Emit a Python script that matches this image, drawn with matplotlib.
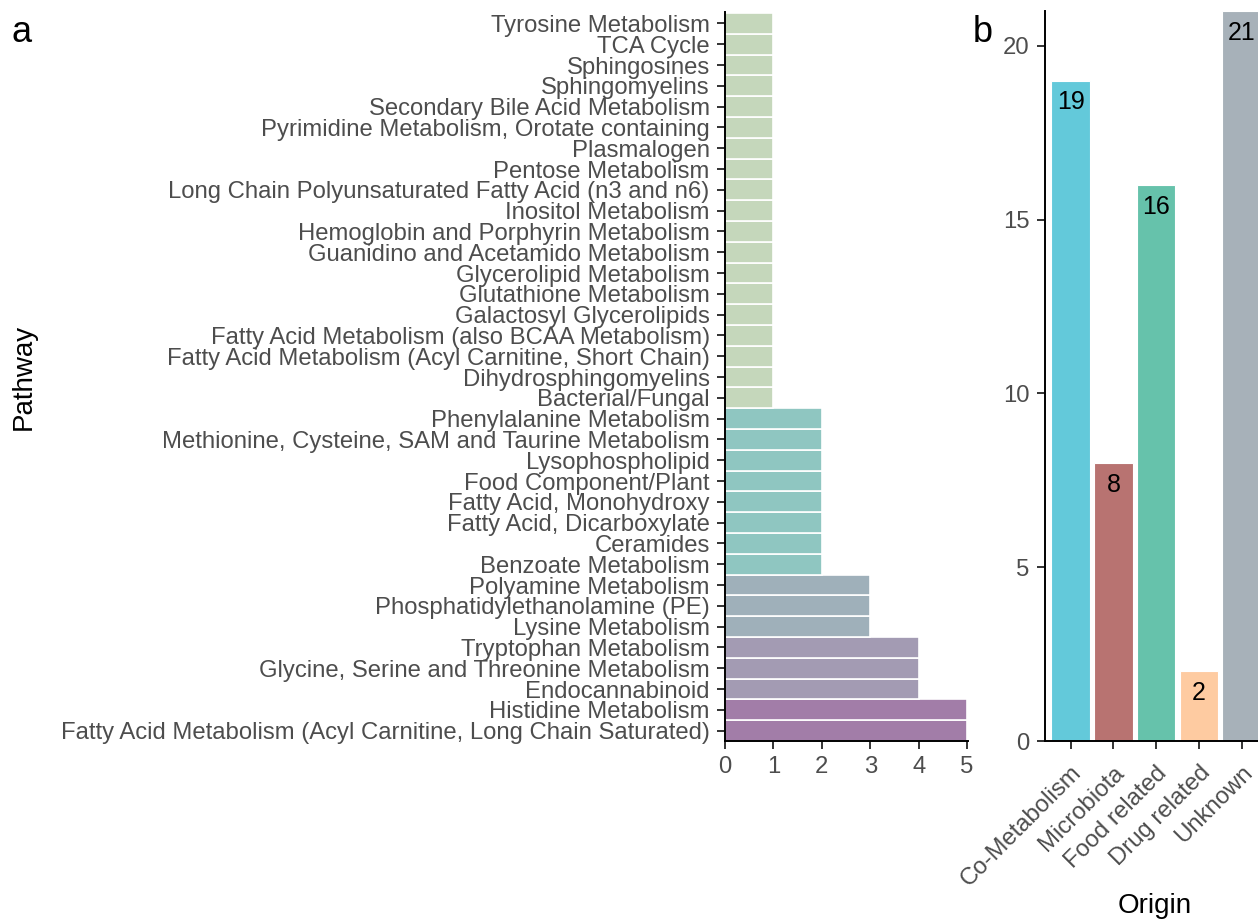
import numpy as np
import matplotlib
matplotlib.use("Agg")
import matplotlib.pyplot as plt

plt.rcParams['font.family'] = ['Liberation Sans', 'DejaVu Sans']

# panel a: pathways (bottom to top) and counts
pathways = [
    "Fatty Acid Metabolism (Acyl Carnitine, Long Chain Saturated)",
    "Histidine Metabolism",
    "Endocannabinoid",
    "Glycine, Serine and Threonine Metabolism",
    "Tryptophan Metabolism",
    "Lysine Metabolism",
    "Phosphatidylethanolamine (PE)",
    "Polyamine Metabolism",
    "Benzoate Metabolism",
    "Ceramides",
    "Fatty Acid, Dicarboxylate",
    "Fatty Acid, Monohydroxy",
    "Food Component/Plant",
    "Lysophospholipid",
    "Methionine, Cysteine, SAM and Taurine Metabolism",
    "Phenylalanine Metabolism",
    "Bacterial/Fungal",
    "Dihydrosphingomyelins",
    "Fatty Acid Metabolism (Acyl Carnitine, Short Chain)",
    "Fatty Acid Metabolism (also BCAA Metabolism)",
    "Galactosyl Glycerolipids",
    "Glutathione Metabolism",
    "Glycerolipid Metabolism",
    "Guanidino and Acetamido Metabolism",
    "Hemoglobin and Porphyrin Metabolism",
    "Inositol Metabolism",
    "Long Chain Polyunsaturated Fatty Acid (n3 and n6)",
    "Pentose Metabolism",
    "Plasmalogen",
    "Pyrimidine Metabolism, Orotate containing",
    "Secondary Bile Acid Metabolism",
    "Sphingomyelins",
    "Sphingosines",
    "TCA Cycle",
    "Tyrosine Metabolism",
]
counts = [5, 5, 4, 4, 4, 3, 3, 3, 2, 2, 2, 2, 2, 2, 2, 2,
          1, 1, 1, 1, 1, 1, 1, 1, 1, 1, 1, 1, 1, 1, 1, 1, 1, 1, 1]
count_colors = {1: "#C5D7BB", 2: "#8FC6C1", 3: "#9FB0BA", 4: "#A39BB3", 5: "#A27DA8"}

# panel b: origin
origins = ["Co-Metabolism", "Microbiota", "Food related", "Drug related", "Unknown"]
origin_n = [19, 8, 16, 2, 21]
origin_colors = ["#63C9DA", "#B87371", "#66C2AB", "#FECBA1", "#A7B1B9"]

W, H = 1258, 921
fig = plt.figure(figsize=(W / 100, H / 100), dpi=100)

tick_col = "#4D4D4D"
fs = 17.2

def px_axes(x0, x1, ytop, ybot):
    return [x0 / W, (H - ybot) / H, (x1 - x0) / W, (ybot - ytop) / H]

def style(ax):
    for s in ["top", "right"]:
        ax.spines[s].set_visible(False)
    for s in ["left", "bottom"]:
        ax.spines[s].set_linewidth(1.4)
        ax.spines[s].set_color("black")
    ax.tick_params(length=6, width=1.4, color="#333333", labelcolor=tick_col,
                   labelsize=fs, pad=5)

# ---- panel a ----
ax1 = fig.add_axes(px_axes(725, 968, 12, 741))
ypos = np.arange(1, len(pathways) + 1)
ax1.barh(ypos, counts, height=1.0, color=[count_colors[c] for c in counts],
         edgecolor="white", linewidth=1.2)
ax1.set_yticks(ypos)
ax1.set_yticklabels(pathways)
ax1.set_ylim(0.5, len(pathways) + 0.55)
ax1.set_xlim(0, 5.02)
ax1.set_xticks(range(0, 6))
style(ax1)
ax1.set_ylabel("Pathway", fontsize=20, va="center")
ax1.yaxis.set_label_coords((24 - 725) / 243, 0.5)

# ---- panel b ----
bw = 42.75
ax2 = fig.add_axes(px_axes(1045, 1045 + 5.2 * bw, 11, 741))
xpos = np.arange(1, len(origins) + 1)
bars = ax2.bar(xpos, origin_n, width=0.9, color=origin_colors,
               edgecolor="white", linewidth=0.8)
for xb, n in zip(xpos, origin_n):
    ax2.annotate(str(n), (xb, n), xytext=(0, -7), textcoords="offset points",
                 ha="center", va="top", fontsize=18, color="black")
ax2.set_xlim(0.4, 5.6)
ax2.set_ylim(0, 21)
ax2.set_yticks([0, 5, 10, 15, 20])
ax2.set_xticks(xpos)
ax2.set_xticklabels(origins, rotation=45, ha="right", va="top",
                    rotation_mode="anchor")
style(ax2)
ax2.tick_params(axis="x", pad=9)
ax2.set_xlabel("Origin", fontsize=20, va="center")
ax2.xaxis.set_label_coords((1155 - 1045) / (5.2 * bw), (741 - 906) / 730)

fig.text(22 / W, 1 - 32 / H, "a", fontsize=26, ha="center", va="center")
fig.text(983 / W, 1 - 32 / H, "b", fontsize=26, ha="center", va="center")

fig.savefig("out.png", dpi=100)
